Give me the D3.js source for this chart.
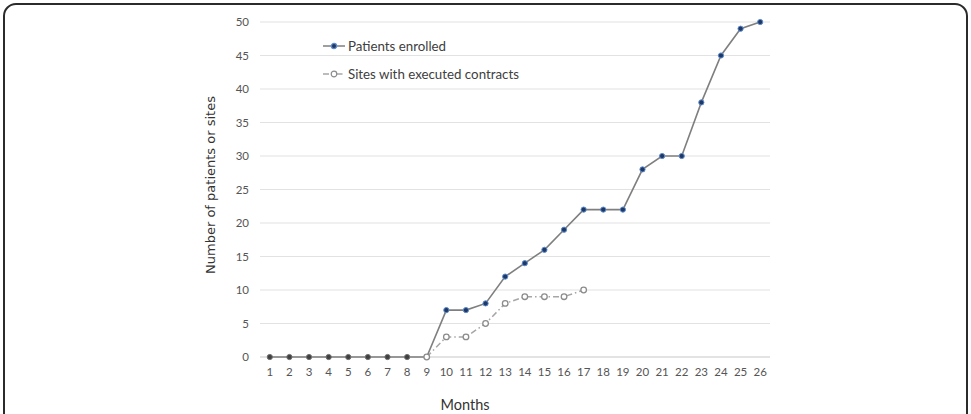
<!doctype html>
<html lang="en">
<head>
  <meta charset="utf-8">
  <title>Patients enrolled and sites with executed contracts</title>
  <style>
    body { margin: 0; background: #fff; }
    svg { display: block; }
    .tick-label { font-family: Lato, "Open Sans", sans-serif; font-size: 11.5px; fill: #555; }
    .legend-text { font-family: Lato, "Open Sans", sans-serif; font-size: 13.3px; fill: #404040; }
  </style>
</head>
<body>
  <div id="chart"></div>

  <script src="https://d3js.org/d3.v7.min.js"></script>
  <script>
    // data
    const months = d3.range(1, 27);
    const patients = [0, 0, 0, 0, 0, 0, 0, 0, 0, 7, 7, 8, 12, 14, 16, 19, 22, 22, 22, 28, 30, 30, 38, 45, 49, 50];
    const sites = [null, null, null, null, null, null, null, null, 0, 3, 3, 5, 8, 9, 9, 9, 10, null, null, null, null, null, null, null, null, null];
    const yTicks = [0, 5, 10, 15, 20, 25, 30, 35, 40, 45, 50];
    const seriesNames = ['Patients enrolled', 'Sites with executed contracts'];

    const width = 971, height = 414;

    const svg = d3.select('#chart').append('svg')
      .attr('width', width)
      .attr('height', height);

    // card frame
    svg.append('rect')
      .attr('x', 4).attr('y', 4)
      .attr('width', width - 8).attr('height', height + 20)
      .attr('rx', 12)
      .attr('fill', 'none')
      .attr('stroke', '#2b2b2b')
      .attr('stroke-width', 2);

    const x = d3.scaleBand()
      .domain(months)
      .range([260, 770]);

    const y = d3.scaleLinear()
      .domain([0, 50])
      .range([357, 22]);

    const cx = d => x(d) + x.bandwidth() / 2;

    // gridlines
    svg.append('g')
      .selectAll('line')
      .data(yTicks)
      .join('line')
      .attr('x1', 260).attr('x2', 770)
      .attr('y1', d => y(d)).attr('y2', d => y(d))
      .attr('stroke', d => d === 0 ? '#c8c8c8' : '#e2e2e2')
      .attr('stroke-width', 1.2);

    // y labels
    svg.append('g')
      .selectAll('text')
      .data(yTicks)
      .join('text')
      .attr('class', 'tick-label')
      .attr('x', 249)
      .attr('y', d => y(d))
      .attr('dy', '0.35em')
      .attr('text-anchor', 'end')
      .text(d => d);

    // x labels
    svg.append('g')
      .selectAll('text')
      .data(months)
      .join('text')
      .attr('class', 'tick-label')
      .attr('x', d => cx(d))
      .attr('y', 376)
      .attr('text-anchor', 'middle')
      .text(d => d);

    // axis titles
    svg.append('text')
      .attr('x', 465).attr('y', 410)
      .attr('text-anchor', 'middle')
      .style('font-family', 'Lato, "Open Sans", sans-serif')
      .style('font-size', '14.5px')
      .style('fill', '#333')
      .text('Months');

    svg.append('text')
      .attr('transform', 'translate(215,185) rotate(-90)')
      .attr('text-anchor', 'middle')
      .style('font-family', '"DejaVu Sans", sans-serif')
      .style('font-size', '13px')
      .style('fill', '#333')
      .text('Number of patients or sites');

    const line = d3.line()
      .defined(d => d.v !== null)
      .x(d => cx(d.m))
      .y(d => y(d.v));

    const sitesData = months.map((m, i) => ({ m: m, v: sites[i] }));
    const patientsData = months.map((m, i) => ({ m: m, v: patients[i] }));

    // sites series (dash-dot, open circles)
    svg.append('path')
      .datum(sitesData)
      .attr('d', line)
      .attr('fill', 'none')
      .attr('stroke', '#a6a6a6')
      .attr('stroke-width', 1.5)
      .attr('stroke-dasharray', '6 3 1.5 3');

    // patients series
    svg.append('path')
      .datum(patientsData)
      .attr('d', line)
      .attr('fill', 'none')
      .attr('stroke', '#7f7f7f')
      .attr('stroke-width', 1.6);

    svg.append('g')
      .selectAll('circle')
      .data(patientsData.filter(d => d.m !== 9))
      .join('circle')
      .attr('cx', d => cx(d.m))
      .attr('cy', d => y(d.v))
      .attr('r', 2.6)
      .attr('fill', d => d.v === 0 ? '#404040' : '#1f3864')
      .attr('stroke', d => d.v === 0 ? '#6f6f6f' : '#5b8bd0')
      .attr('stroke-width', 1);

    svg.append('g')
      .selectAll('circle')
      .data(sitesData.filter(d => d.v !== null))
      .join('circle')
      .attr('cx', d => cx(d.m))
      .attr('cy', d => y(d.v))
      .attr('r', 2.8)
      .attr('fill', '#fff')
      .attr('stroke', '#8c8c8c')
      .attr('stroke-width', 1.3);

    // legend
    const legend = svg.append('g').attr('transform', 'translate(323,46)');
    const legendRows = legend.selectAll('g')
      .data(seriesNames)
      .join('g')
      .attr('transform', (d, i) => `translate(0,${i * 28})`);

    legendRows.append('line')
      .attr('x1', 0).attr('x2', 22)
      .attr('stroke', (d, i) => i === 0 ? '#7f7f7f' : '#a6a6a6')
      .attr('stroke-width', 1.5)
      .attr('stroke-dasharray', (d, i) => i === 0 ? null : '6 3 1.5 3');

    legendRows.append('circle')
      .attr('cx', 11)
      .attr('r', (d, i) => i === 0 ? 2.6 : 2.8)
      .attr('fill', (d, i) => i === 0 ? '#1f3864' : '#fff')
      .attr('stroke', (d, i) => i === 0 ? '#5b8bd0' : '#8c8c8c')
      .attr('stroke-width', 1.2);

    legendRows.append('text')
      .attr('class', 'legend-text')
      .attr('x', 25)
      .attr('dy', '0.35em')
      .text(d => d);
  </script>
</body>
</html>
